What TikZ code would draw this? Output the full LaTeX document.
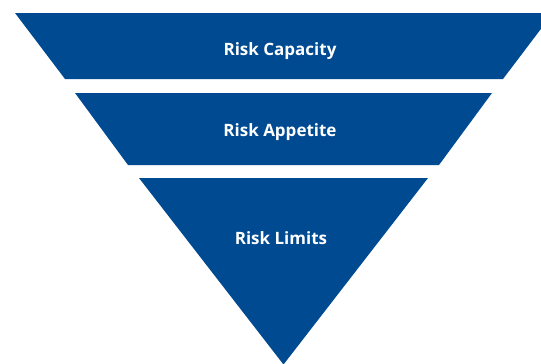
\documentclass[tikz,border=0pt]{standalone}
\usepackage{fontspec}
\setmainfont{Open Sans}
\definecolor{riskblue}{RGB}{0,74,146}
\tikzset{
  band/.style={fill=riskblue, draw=none},
  label text/.style={text=white, font=\bfseries\fontsize{17}{20}\selectfont, inner sep=0pt, anchor=base}
}

\begin{document}
\begin{tikzpicture}[x=1pt, y=-1pt]
        \useasboundingbox (0,0) rectangle (541,364);
        \begin{scope}
          \clip (0,0) rectangle (541,364);
          \fill[band] (15,13) -- (553,13) -- (503,79) -- (65,79) -- cycle;
          \fill[band] (75,93) -- (492,93) -- (439,165) -- (128,165) -- cycle;
          \fill[band] (139,178) -- (428,178) -- (283.5,364.5) -- cycle;
        \end{scope}

        \node[label text] (capacity) at (280,55) {Risk Capacity};
        \node[label text] (appetite) at (280,136) {Risk Appetite};
        \node[label text] (limits) at (281,244) {Risk Limits};
      \end{tikzpicture}
\end{document}
